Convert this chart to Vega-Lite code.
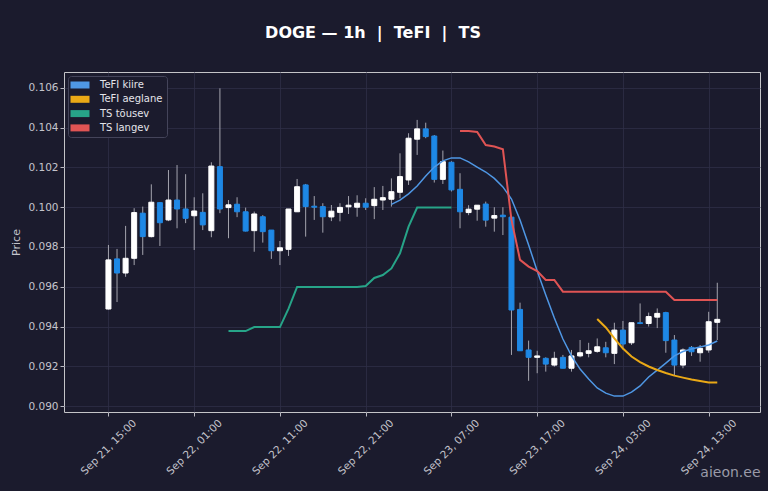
{
  "$schema": "https://vega.github.io/schema/vega-lite/v6.json",
  "description": "DOGE 1h candles with TeFI and TS lines",
  "autosize": "none",
  "width": 696,
  "height": 340,
  "padding": {"left": 64, "top": 72, "right": 8, "bottom": 79},
  "background": "#1b1b2d",
  "title": {
    "text": "DOGE — 1h \u00a0|\u00a0 TeFI \u00a0|\u00a0 TS",
    "anchor": "middle",
    "dx": -39,
    "offset": 18,
    "baseline": "alphabetic",
    "font": "DejaVu Sans",
    "fontSize": 16,
    "fontWeight": "bold",
    "color": "#ffffff"
  },
  "config": {
    "font": "DejaVu Sans",
    "view": {"stroke": "#c4c4c8", "strokeWidth": 1, "fill": "#1b1b2d"},
    "axis": {
      "domain": false,
      "gridColor": "#2e2e46",
      "gridWidth": 0.8,
      "tickColor": "#b8b8c0",
      "tickSize": 4,
      "labelColor": "#c4c4cc",
      "labelFont": "DejaVu Sans",
      "labelFontSize": 10.5,
      "titleColor": "#c4c4cc",
      "titleFont": "DejaVu Sans",
      "titleFontWeight": "normal"
    }
  },
  "datasets": {
    "candles": [
      {"t": "2025-09-21T15:00", "o": 0.09488, "h": 0.0981, "l": 0.09485, "c": 0.09735},
      {"t": "2025-09-21T16:00", "o": 0.0974, "h": 0.0979, "l": 0.09523, "c": 0.09669},
      {"t": "2025-09-21T17:00", "o": 0.09669, "h": 0.09906, "l": 0.0965, "c": 0.09743},
      {"t": "2025-09-21T18:00", "o": 0.09743, "h": 0.09995, "l": 0.09709, "c": 0.09973},
      {"t": "2025-09-21T19:00", "o": 0.0997, "h": 0.10003, "l": 0.0976, "c": 0.09852},
      {"t": "2025-09-21T20:00", "o": 0.09852, "h": 0.10115, "l": 0.09848, "c": 0.10025},
      {"t": "2025-09-21T21:00", "o": 0.10023, "h": 0.10025, "l": 0.09805, "c": 0.09922},
      {"t": "2025-09-21T22:00", "o": 0.09936, "h": 0.10187, "l": 0.0993, "c": 0.10036},
      {"t": "2025-09-21T23:00", "o": 0.10036, "h": 0.10212, "l": 0.09894, "c": 0.09991},
      {"t": "2025-09-22T00:00", "o": 0.09991, "h": 0.10166, "l": 0.0992, "c": 0.09944},
      {"t": "2025-09-22T01:00", "o": 0.09957, "h": 0.1005, "l": 0.09785, "c": 0.09981},
      {"t": "2025-09-22T02:00", "o": 0.09974, "h": 0.1007, "l": 0.09885, "c": 0.09911},
      {"t": "2025-09-22T03:00", "o": 0.09882, "h": 0.10226, "l": 0.09849, "c": 0.10207},
      {"t": "2025-09-22T04:00", "o": 0.10204, "h": 0.10598, "l": 0.0997, "c": 0.09991},
      {"t": "2025-09-22T05:00", "o": 0.09998, "h": 0.10036, "l": 0.09844, "c": 0.10012},
      {"t": "2025-09-22T06:00", "o": 0.10015, "h": 0.1005, "l": 0.0995, "c": 0.09977},
      {"t": "2025-09-22T07:00", "o": 0.09977, "h": 0.09998, "l": 0.09878, "c": 0.0988},
      {"t": "2025-09-22T08:00", "o": 0.09882, "h": 0.09978, "l": 0.09776, "c": 0.09966},
      {"t": "2025-09-22T09:00", "o": 0.09952, "h": 0.0996, "l": 0.09822, "c": 0.09877},
      {"t": "2025-09-22T10:00", "o": 0.09885, "h": 0.09885, "l": 0.0974, "c": 0.09781},
      {"t": "2025-09-22T11:00", "o": 0.09781, "h": 0.0983, "l": 0.09709, "c": 0.09796},
      {"t": "2025-09-22T12:00", "o": 0.09788, "h": 0.09991, "l": 0.09755, "c": 0.09991},
      {"t": "2025-09-22T13:00", "o": 0.09977, "h": 0.10142, "l": 0.09977, "c": 0.10103},
      {"t": "2025-09-22T14:00", "o": 0.10112, "h": 0.10117, "l": 0.09852, "c": 0.10003},
      {"t": "2025-09-22T15:00", "o": 0.10005, "h": 0.10056, "l": 0.09936, "c": 0.1},
      {"t": "2025-09-22T16:00", "o": 0.10003, "h": 0.1002, "l": 0.09872, "c": 0.09952},
      {"t": "2025-09-22T17:00", "o": 0.09951, "h": 0.10011, "l": 0.0993, "c": 0.0998},
      {"t": "2025-09-22T18:00", "o": 0.09974, "h": 0.1002, "l": 0.09929, "c": 0.09999},
      {"t": "2025-09-22T19:00", "o": 0.10002, "h": 0.10056, "l": 0.09966, "c": 0.1001},
      {"t": "2025-09-22T20:00", "o": 0.1, "h": 0.1006, "l": 0.09952, "c": 0.1002},
      {"t": "2025-09-22T21:00", "o": 0.1002, "h": 0.10045, "l": 0.09986, "c": 0.1},
      {"t": "2025-09-22T22:00", "o": 0.10008, "h": 0.10101, "l": 0.0994, "c": 0.1004},
      {"t": "2025-09-22T23:00", "o": 0.10036, "h": 0.10107, "l": 0.09986, "c": 0.10048},
      {"t": "2025-09-23T00:00", "o": 0.1004, "h": 0.10145, "l": 0.10003, "c": 0.10078},
      {"t": "2025-09-23T01:00", "o": 0.10075, "h": 0.10271, "l": 0.10045, "c": 0.10154},
      {"t": "2025-09-23T02:00", "o": 0.10137, "h": 0.10372, "l": 0.10112, "c": 0.10347},
      {"t": "2025-09-23T03:00", "o": 0.10342, "h": 0.10439, "l": 0.10263, "c": 0.10394},
      {"t": "2025-09-23T04:00", "o": 0.10394, "h": 0.10425, "l": 0.10347, "c": 0.10355},
      {"t": "2025-09-23T05:00", "o": 0.10358, "h": 0.10363, "l": 0.10124, "c": 0.1014},
      {"t": "2025-09-23T06:00", "o": 0.1014, "h": 0.10285, "l": 0.10117, "c": 0.10229},
      {"t": "2025-09-23T07:00", "o": 0.10226, "h": 0.10231, "l": 0.10079, "c": 0.10087},
      {"t": "2025-09-23T08:00", "o": 0.1009, "h": 0.10171, "l": 0.09894, "c": 0.09977},
      {"t": "2025-09-23T09:00", "o": 0.09973, "h": 0.1001, "l": 0.0996, "c": 0.0999},
      {"t": "2025-09-23T10:00", "o": 0.0999, "h": 0.1001, "l": 0.09932, "c": 0.1001},
      {"t": "2025-09-23T11:00", "o": 0.10016, "h": 0.10028, "l": 0.09902, "c": 0.09935},
      {"t": "2025-09-23T12:00", "o": 0.09945, "h": 0.1, "l": 0.09877, "c": 0.09958},
      {"t": "2025-09-23T13:00", "o": 0.0996, "h": 0.1, "l": 0.0986, "c": 0.09952},
      {"t": "2025-09-23T14:00", "o": 0.0995, "h": 0.0995, "l": 0.09257, "c": 0.09483},
      {"t": "2025-09-23T15:00", "o": 0.09486, "h": 0.0952, "l": 0.09278, "c": 0.09278},
      {"t": "2025-09-23T16:00", "o": 0.09282, "h": 0.09329, "l": 0.09127, "c": 0.09245},
      {"t": "2025-09-23T17:00", "o": 0.09245, "h": 0.09278, "l": 0.09165, "c": 0.09252},
      {"t": "2025-09-23T18:00", "o": 0.0924, "h": 0.09245, "l": 0.09173, "c": 0.09211},
      {"t": "2025-09-23T19:00", "o": 0.09206, "h": 0.09273, "l": 0.09198, "c": 0.0924},
      {"t": "2025-09-23T20:00", "o": 0.09245, "h": 0.09257, "l": 0.0919, "c": 0.0919},
      {"t": "2025-09-23T21:00", "o": 0.0919, "h": 0.09282, "l": 0.09173, "c": 0.09252},
      {"t": "2025-09-23T22:00", "o": 0.09252, "h": 0.09332, "l": 0.09245, "c": 0.09268},
      {"t": "2025-09-23T23:00", "o": 0.09265, "h": 0.09318, "l": 0.09245, "c": 0.09278},
      {"t": "2025-09-24T00:00", "o": 0.09275, "h": 0.0934, "l": 0.09268, "c": 0.09298},
      {"t": "2025-09-24T01:00", "o": 0.09293, "h": 0.09323, "l": 0.09245, "c": 0.09268},
      {"t": "2025-09-24T02:00", "o": 0.09265, "h": 0.09419, "l": 0.09211, "c": 0.09382},
      {"t": "2025-09-24T03:00", "o": 0.09382, "h": 0.09428, "l": 0.09285, "c": 0.09312},
      {"t": "2025-09-24T04:00", "o": 0.09318, "h": 0.09419, "l": 0.09307, "c": 0.09419},
      {"t": "2025-09-24T05:00", "o": 0.09419, "h": 0.09516, "l": 0.09412, "c": 0.09415},
      {"t": "2025-09-24T06:00", "o": 0.09415, "h": 0.0947, "l": 0.094, "c": 0.0945},
      {"t": "2025-09-24T07:00", "o": 0.09447, "h": 0.09491, "l": 0.09392, "c": 0.09466},
      {"t": "2025-09-24T08:00", "o": 0.0947, "h": 0.09474, "l": 0.09268, "c": 0.09329},
      {"t": "2025-09-24T09:00", "o": 0.09332, "h": 0.09357, "l": 0.09151, "c": 0.09206},
      {"t": "2025-09-24T10:00", "o": 0.09206, "h": 0.0929, "l": 0.0919, "c": 0.09282},
      {"t": "2025-09-24T11:00", "o": 0.09295, "h": 0.09302, "l": 0.09252, "c": 0.09273},
      {"t": "2025-09-24T12:00", "o": 0.09268, "h": 0.09307, "l": 0.09223, "c": 0.0929},
      {"t": "2025-09-24T13:00", "o": 0.09282, "h": 0.09474, "l": 0.09268, "c": 0.09424},
      {"t": "2025-09-24T14:00", "o": 0.09421, "h": 0.0962, "l": 0.09332, "c": 0.09436}
    ],
    "lines": [
      {"t": "2025-09-23T00:00", "series": "TeFI kiire", "v": 0.10014},
      {"t": "2025-09-23T01:00", "series": "TeFI kiire", "v": 0.10036},
      {"t": "2025-09-23T02:00", "series": "TeFI kiire", "v": 0.10067},
      {"t": "2025-09-23T03:00", "series": "TeFI kiire", "v": 0.10107},
      {"t": "2025-09-23T04:00", "series": "TeFI kiire", "v": 0.10157},
      {"t": "2025-09-23T05:00", "series": "TeFI kiire", "v": 0.10202},
      {"t": "2025-09-23T06:00", "series": "TeFI kiire", "v": 0.10233},
      {"t": "2025-09-23T07:00", "series": "TeFI kiire", "v": 0.10248},
      {"t": "2025-09-23T08:00", "series": "TeFI kiire", "v": 0.10248},
      {"t": "2025-09-23T09:00", "series": "TeFI kiire", "v": 0.10228},
      {"t": "2025-09-23T10:00", "series": "TeFI kiire", "v": 0.10202},
      {"t": "2025-09-23T11:00", "series": "TeFI kiire", "v": 0.10177},
      {"t": "2025-09-23T12:00", "series": "TeFI kiire", "v": 0.10145},
      {"t": "2025-09-23T13:00", "series": "TeFI kiire", "v": 0.10102},
      {"t": "2025-09-23T14:00", "series": "TeFI kiire", "v": 0.10041},
      {"t": "2025-09-23T15:00", "series": "TeFI kiire", "v": 0.09936},
      {"t": "2025-09-23T16:00", "series": "TeFI kiire", "v": 0.0981},
      {"t": "2025-09-23T17:00", "series": "TeFI kiire", "v": 0.09679},
      {"t": "2025-09-23T18:00", "series": "TeFI kiire", "v": 0.09558},
      {"t": "2025-09-23T19:00", "series": "TeFI kiire", "v": 0.09443},
      {"t": "2025-09-23T20:00", "series": "TeFI kiire", "v": 0.09337},
      {"t": "2025-09-23T21:00", "series": "TeFI kiire", "v": 0.09252},
      {"t": "2025-09-23T22:00", "series": "TeFI kiire", "v": 0.09186},
      {"t": "2025-09-23T23:00", "series": "TeFI kiire", "v": 0.09136},
      {"t": "2025-09-24T00:00", "series": "TeFI kiire", "v": 0.09091},
      {"t": "2025-09-24T01:00", "series": "TeFI kiire", "v": 0.09065},
      {"t": "2025-09-24T02:00", "series": "TeFI kiire", "v": 0.0905},
      {"t": "2025-09-24T03:00", "series": "TeFI kiire", "v": 0.0905},
      {"t": "2025-09-24T04:00", "series": "TeFI kiire", "v": 0.0907},
      {"t": "2025-09-24T05:00", "series": "TeFI kiire", "v": 0.09101},
      {"t": "2025-09-24T06:00", "series": "TeFI kiire", "v": 0.09146},
      {"t": "2025-09-24T07:00", "series": "TeFI kiire", "v": 0.09181},
      {"t": "2025-09-24T08:00", "series": "TeFI kiire", "v": 0.09216},
      {"t": "2025-09-24T09:00", "series": "TeFI kiire", "v": 0.09252},
      {"t": "2025-09-24T10:00", "series": "TeFI kiire", "v": 0.09274},
      {"t": "2025-09-24T11:00", "series": "TeFI kiire", "v": 0.09287},
      {"t": "2025-09-24T12:00", "series": "TeFI kiire", "v": 0.09297},
      {"t": "2025-09-24T13:00", "series": "TeFI kiire", "v": 0.09307},
      {"t": "2025-09-24T14:00", "series": "TeFI kiire", "v": 0.09327},
      {"t": "2025-09-24T00:00", "series": "TeFI aeglane", "v": 0.09438},
      {"t": "2025-09-24T01:00", "series": "TeFI aeglane", "v": 0.09395},
      {"t": "2025-09-24T02:00", "series": "TeFI aeglane", "v": 0.0934},
      {"t": "2025-09-24T03:00", "series": "TeFI aeglane", "v": 0.09289},
      {"t": "2025-09-24T04:00", "series": "TeFI aeglane", "v": 0.09249},
      {"t": "2025-09-24T05:00", "series": "TeFI aeglane", "v": 0.09221},
      {"t": "2025-09-24T06:00", "series": "TeFI aeglane", "v": 0.09199},
      {"t": "2025-09-24T07:00", "series": "TeFI aeglane", "v": 0.09181},
      {"t": "2025-09-24T08:00", "series": "TeFI aeglane", "v": 0.09166},
      {"t": "2025-09-24T09:00", "series": "TeFI aeglane", "v": 0.09153},
      {"t": "2025-09-24T10:00", "series": "TeFI aeglane", "v": 0.09143},
      {"t": "2025-09-24T11:00", "series": "TeFI aeglane", "v": 0.09133},
      {"t": "2025-09-24T12:00", "series": "TeFI aeglane", "v": 0.09126},
      {"t": "2025-09-24T13:00", "series": "TeFI aeglane", "v": 0.09118},
      {"t": "2025-09-24T14:00", "series": "TeFI aeglane", "v": 0.09118},
      {"t": "2025-09-22T05:00", "series": "TS tõusev", "v": 0.09377},
      {"t": "2025-09-22T06:00", "series": "TS tõusev", "v": 0.09377},
      {"t": "2025-09-22T07:00", "series": "TS tõusev", "v": 0.09377},
      {"t": "2025-09-22T08:00", "series": "TS tõusev", "v": 0.09397},
      {"t": "2025-09-22T09:00", "series": "TS tõusev", "v": 0.09397},
      {"t": "2025-09-22T10:00", "series": "TS tõusev", "v": 0.09397},
      {"t": "2025-09-22T11:00", "series": "TS tõusev", "v": 0.09397},
      {"t": "2025-09-22T12:00", "series": "TS tõusev", "v": 0.0949},
      {"t": "2025-09-22T13:00", "series": "TS tõusev", "v": 0.09599},
      {"t": "2025-09-22T14:00", "series": "TS tõusev", "v": 0.09599},
      {"t": "2025-09-22T15:00", "series": "TS tõusev", "v": 0.09599},
      {"t": "2025-09-22T16:00", "series": "TS tõusev", "v": 0.09599},
      {"t": "2025-09-22T17:00", "series": "TS tõusev", "v": 0.09599},
      {"t": "2025-09-22T18:00", "series": "TS tõusev", "v": 0.09599},
      {"t": "2025-09-22T19:00", "series": "TS tõusev", "v": 0.09599},
      {"t": "2025-09-22T20:00", "series": "TS tõusev", "v": 0.09599},
      {"t": "2025-09-22T21:00", "series": "TS tõusev", "v": 0.09604},
      {"t": "2025-09-22T22:00", "series": "TS tõusev", "v": 0.09644},
      {"t": "2025-09-22T23:00", "series": "TS tõusev", "v": 0.09659},
      {"t": "2025-09-23T00:00", "series": "TS tõusev", "v": 0.09692},
      {"t": "2025-09-23T01:00", "series": "TS tõusev", "v": 0.09768},
      {"t": "2025-09-23T02:00", "series": "TS tõusev", "v": 0.09902},
      {"t": "2025-09-23T03:00", "series": "TS tõusev", "v": 0.09998},
      {"t": "2025-09-23T04:00", "series": "TS tõusev", "v": 0.09998},
      {"t": "2025-09-23T05:00", "series": "TS tõusev", "v": 0.09998},
      {"t": "2025-09-23T06:00", "series": "TS tõusev", "v": 0.09998},
      {"t": "2025-09-23T07:00", "series": "TS tõusev", "v": 0.09998},
      {"t": "2025-09-23T08:00", "series": "TS langev", "v": 0.10383},
      {"t": "2025-09-23T09:00", "series": "TS langev", "v": 0.10383},
      {"t": "2025-09-23T10:00", "series": "TS langev", "v": 0.10378},
      {"t": "2025-09-23T11:00", "series": "TS langev", "v": 0.10313},
      {"t": "2025-09-23T12:00", "series": "TS langev", "v": 0.10305},
      {"t": "2025-09-23T13:00", "series": "TS langev", "v": 0.10291},
      {"t": "2025-09-23T14:00", "series": "TS langev", "v": 0.09936},
      {"t": "2025-09-23T15:00", "series": "TS langev", "v": 0.09735},
      {"t": "2025-09-23T16:00", "series": "TS langev", "v": 0.09701},
      {"t": "2025-09-23T17:00", "series": "TS langev", "v": 0.09679},
      {"t": "2025-09-23T18:00", "series": "TS langev", "v": 0.09634},
      {"t": "2025-09-23T19:00", "series": "TS langev", "v": 0.09634},
      {"t": "2025-09-23T20:00", "series": "TS langev", "v": 0.09575},
      {"t": "2025-09-23T21:00", "series": "TS langev", "v": 0.09575},
      {"t": "2025-09-23T22:00", "series": "TS langev", "v": 0.09575},
      {"t": "2025-09-23T23:00", "series": "TS langev", "v": 0.09575},
      {"t": "2025-09-24T00:00", "series": "TS langev", "v": 0.09575},
      {"t": "2025-09-24T01:00", "series": "TS langev", "v": 0.09575},
      {"t": "2025-09-24T02:00", "series": "TS langev", "v": 0.09575},
      {"t": "2025-09-24T03:00", "series": "TS langev", "v": 0.09575},
      {"t": "2025-09-24T04:00", "series": "TS langev", "v": 0.09575},
      {"t": "2025-09-24T05:00", "series": "TS langev", "v": 0.09575},
      {"t": "2025-09-24T06:00", "series": "TS langev", "v": 0.09575},
      {"t": "2025-09-24T07:00", "series": "TS langev", "v": 0.09575},
      {"t": "2025-09-24T08:00", "series": "TS langev", "v": 0.09575},
      {"t": "2025-09-24T09:00", "series": "TS langev", "v": 0.09533},
      {"t": "2025-09-24T10:00", "series": "TS langev", "v": 0.09533},
      {"t": "2025-09-24T11:00", "series": "TS langev", "v": 0.09533},
      {"t": "2025-09-24T12:00", "series": "TS langev", "v": 0.09533},
      {"t": "2025-09-24T13:00", "series": "TS langev", "v": 0.09533},
      {"t": "2025-09-24T14:00", "series": "TS langev", "v": 0.09533}
    ]
  },
  "encoding": {
    "x": {
      "field": "t",
      "type": "temporal",
      "scale": {
        "domain": [
          {"year": 2025, "month": 9, "date": 21, "hours": 10, "minutes": 24},
          {"year": 2025, "month": 9, "date": 24, "hours": 18, "minutes": 24}
        ]
      },
      "axis": {
        "values": [
          {"year": 2025, "month": 9, "date": 21, "hours": 15},
          {"year": 2025, "month": 9, "date": 22, "hours": 1},
          {"year": 2025, "month": 9, "date": 22, "hours": 11},
          {"year": 2025, "month": 9, "date": 22, "hours": 21},
          {"year": 2025, "month": 9, "date": 23, "hours": 7},
          {"year": 2025, "month": 9, "date": 23, "hours": 17},
          {"year": 2025, "month": 9, "date": 24, "hours": 3},
          {"year": 2025, "month": 9, "date": 24, "hours": 13}
        ],
        "format": "%b %d, %H:%M",
        "labelAngle": -45,
        "labelAlign": "center",
        "labelBaseline": "middle",
        "labelPadding": 31,
        "labelOverlap": false,
        "title": "aieon.ee",
        "titleX": 696,
        "titleY": 64,
        "titleAlign": "right",
        "titleBaseline": "alphabetic",
        "titleFontSize": 14,
        "titleColor": "#9a9aa8"
      }
    }
  },
  "layer": [
    {
      "data": {"name": "candles"},
      "mark": {"type": "rule", "color": "#a4a4ae", "strokeWidth": 1},
      "encoding": {
        "y": {
          "field": "l",
          "type": "quantitative",
          "scale": {"domain": [0.0897, 0.1068], "nice": false, "zero": false},
          "axis": {
            "values": [0.09, 0.092, 0.094, 0.096, 0.098, 0.1, 0.102, 0.104, 0.106],
            "format": ".3f",
            "title": "Price",
            "titleFontSize": 11,
            "titlePadding": 6
          }
        },
        "y2": {"field": "h"}
      }
    },
    {
      "data": {"name": "candles"},
      "mark": {"type": "bar", "width": 5, "strokeWidth": 1},
      "encoding": {
        "y": {"field": "o", "type": "quantitative"},
        "y2": {"field": "c"},
        "color": {
          "condition": {"test": "datum.c >= datum.o", "value": "#ffffff"},
          "value": "#1e88e5"
        },
        "stroke": {
          "condition": {"test": "datum.c >= datum.o", "value": "#ffffff"},
          "value": "#1e88e5"
        }
      }
    },
    {
      "data": {"name": "lines"},
      "mark": {"type": "line", "interpolate": "linear"},
      "encoding": {
        "y": {"field": "v", "type": "quantitative"},
        "color": {
          "field": "series",
          "type": "nominal",
          "scale": {
            "domain": ["TeFI kiire", "TeFI aeglane", "TS tõusev", "TS langev"],
            "range": ["#4f97e4", "#eaa916", "#27a488", "#e05454"]
          },
          "legend": {
            "title": null,
            "orient": "top-left",
            "offset": 4,
            "padding": 4,
            "fillColor": "#1b1b2d",
            "strokeColor": "#44445a",
            "cornerRadius": 3,
            "rowPadding": 4.3,
            "symbolType": "M-1.9,-0.7H1.9V0.7H-1.9Z",
            "symbolSize": 100,
            "symbolOffset": 3,
            "labelFontSize": 10,
            "labelColor": "#e4e4ea",
            "labelOffset": 15,
            "encode": {
              "symbols": {
                "update": {
                  "fill": {"scale": "color", "field": "value"},
                  "stroke": {"value": "transparent"},
                  "strokeWidth": {"value": 0}
                }
              }
            }
          }
        },
        "strokeWidth": {
          "condition": {"test": "datum.series === 'TeFI kiire'", "value": 1.5},
          "value": 2
        }
      }
    }
  ]
}
